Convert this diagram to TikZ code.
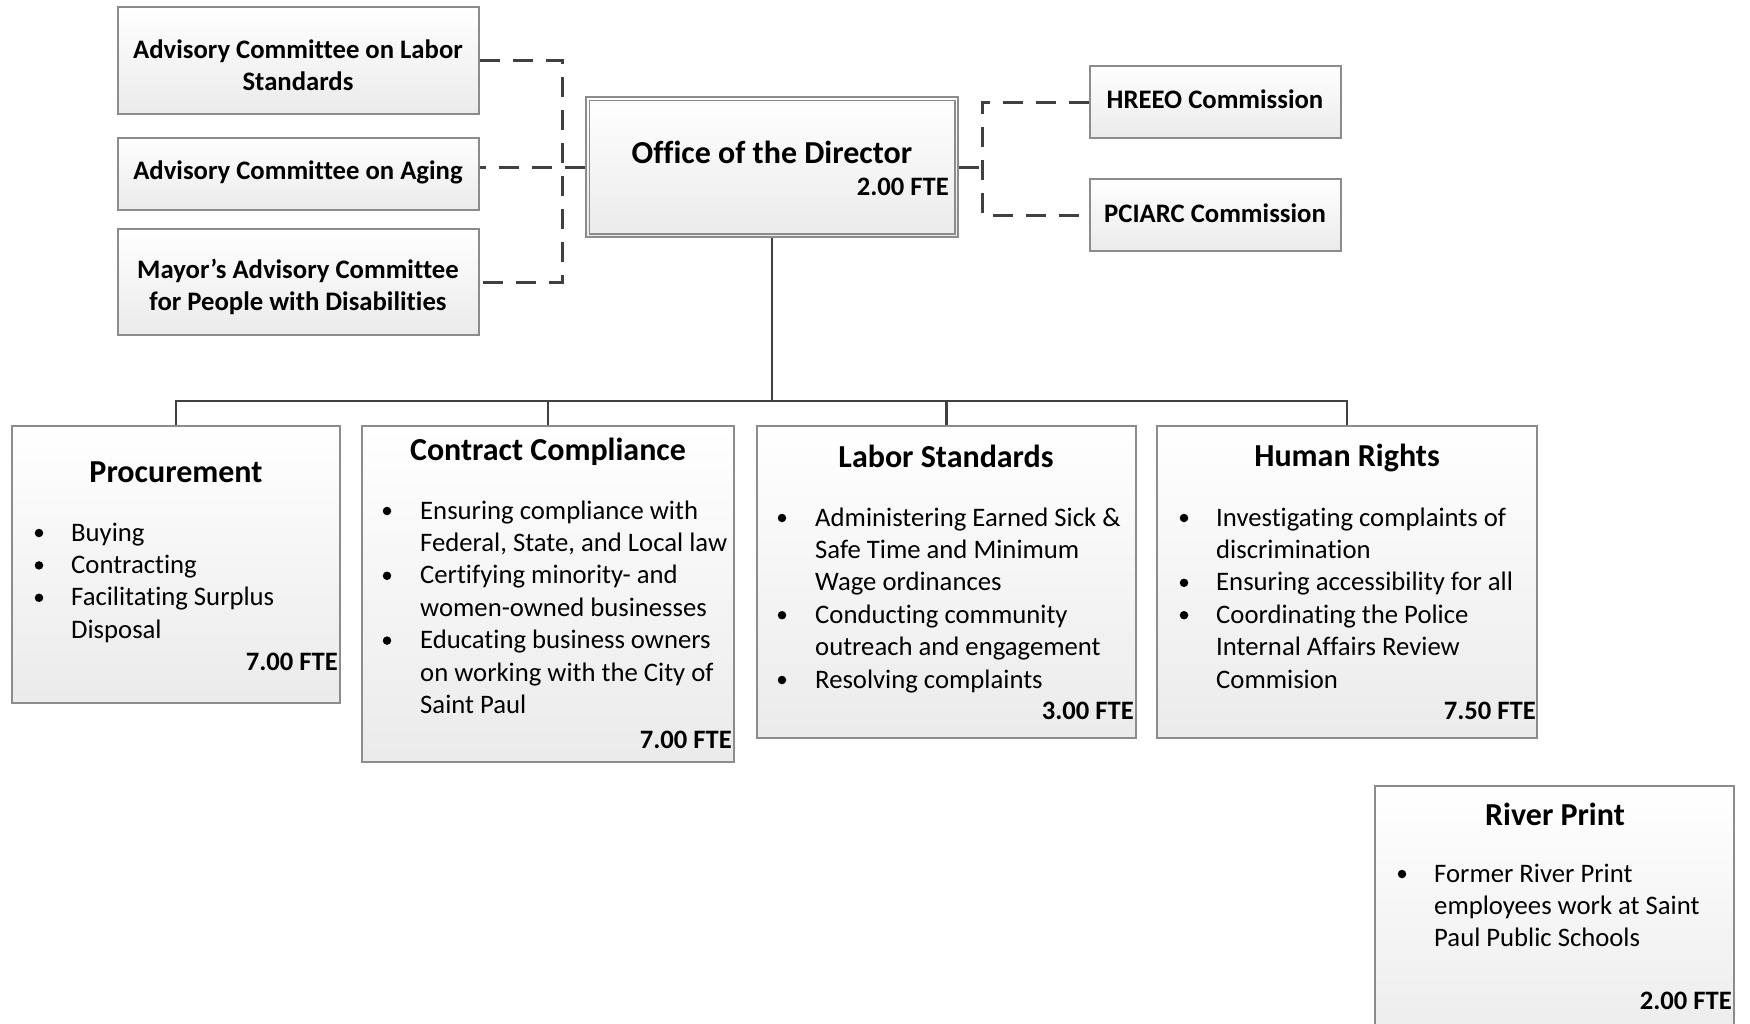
\documentclass[tikz,border=0pt]{standalone}
\usepackage{fontspec}
\setmainfont{Carlito}[Ligatures=CommonOff]
\definecolor{boxgray}{HTML}{8C8C8C}
\definecolor{linegray}{HTML}{404040}
\tikzset{
  box/.style={draw=boxgray, line width=1.5pt, top color=white, bottom color=black!8, inner sep=0pt, rectangle},
  ttl/.style={font=\bfseries\fontsize{32}{36}\selectfont, inner sep=0pt},
  sml/.style={font=\bfseries\fontsize{26.7}{32}\selectfont, inner sep=0pt, align=center},
  fte/.style={font=\bfseries\fontsize{26.6}{30}\selectfont, inner sep=0pt, anchor=east},
  body/.style={font=\fontsize{26.7}{32.4}\selectfont, inner sep=0pt, anchor=base west},
  bdot/.style={circle, fill=black, inner sep=0pt, minimum size=8.5pt},
  tree/.style={draw=linegray, line width=2.8pt},
  dsh/.style={draw=linegray, line width=3pt, dash pattern=on 20pt off 13pt},
}
\newcommand\mkbox[5]{\node[box, minimum width={(#4-#2)*1pt}, minimum height={(#5-#3)*1pt}] (#1) at ({(#2+#4)/2},{(#3+#5)/2}) {};}
\newcommand\tl[4]{\node[body] (#1) at (#2,{#3+8}) {#4};}
\newcommand\bd[3]{\node[bdot] (#1) at (#2,{#3}) {};}
\begin{document}
\begin{tikzpicture}[x=1pt,y=-1pt]
\useasboundingbox (0,0) rectangle (1750,1023);
% top left committees
\mkbox{acl}{118}{7}{479}{114}
\mkbox{aca}{118}{138}{479}{210}
\mkbox{may}{118}{229}{479}{335}
\node[sml] (aclT) at (298,65) {Advisory Committee on Labor\\Standards};
\node[sml] (acaT) at (298,172) {Advisory Committee on Aging};
\node[sml] (mayT) at (298,287) {Mayor’s Advisory Committee\\for People with Disabilities};
% director
\mkbox{dir}{586}{97}{958}{237}
\draw[draw=boxgray, line width=1.5pt] ([shift={(4,4)}]dir.north west) rectangle ([shift={(-4,-4)}]dir.south east);
\node[font=\bfseries\fontsize{32}{36}\selectfont, inner sep=0pt] (dirT) at (772,152) {Office of the Director};
\node[fte] (dirF) at (949,187) {2.00 FTE};
% commissions
\mkbox{hre}{1090}{66}{1341}{138}
\mkbox{pci}{1090}{179}{1341}{251}
\node[sml] (hreT) at (1215,99) {HREEO Commission};
\node[sml] (pciT) at (1215,213) {PCIARC Commission};
% dashed connectors
\coordinate (dvl) at (562,0);
\coordinate (dvr) at (982,0);
\draw[dsh] (acl.east) -| (may.east -| dvl) -- (may.east);
\draw[dsh] (dir.west) -- (dir.west -| aca.east);
\draw[dsh] (dir.east) -- (dir.east -| dvr);
\draw[dsh] (hre.west) -| (pci.west -| dvr) -- (pci.west);
% departments
\mkbox{pro}{12}{426}{340}{703}
\mkbox{cc}{362}{426}{734}{762}
\mkbox{ls}{757}{426}{1136}{738}
\mkbox{hr}{1157}{426}{1537}{738}
\mkbox{rp}{1375}{786}{1734}{1060}
% tree
\coordinate (bus) at (0,401);
\draw[tree] (dir.south) -- (dir.south |- bus);
\draw[tree] (pro.north) |- (hr.north |- bus) -- (hr.north);
\draw[tree] (cc.north) -- (cc.north |- bus);
\draw[tree] (ls.north) -- (ls.north |- bus);
% Procurement
\node[ttl] (proT) at (176,472) {Procurement};
\bd{prob1}{39}{533} \tl{prol1}{71}{533}{Buying}
\bd{prob2}{39}{565.4} \tl{prol2}{71}{565.4}{Contracting}
\bd{prob3}{39}{597.8} \tl{prol3}{71}{597.8}{Facilitating Surplus}
\tl{prol4}{71}{630.2}{Disposal}
\node[fte] (proF) at (338,662) {7.00 FTE};
% Contract Compliance
\node[ttl] (ccT) at (548,452) {Contract Compliance};
\bd{ccb1}{387}{511} \tl{ccl1}{420}{511}{Ensuring compliance with}
\tl{ccl2}{420}{543.4}{Federal, State, and Local law}
\bd{ccb2}{387}{575.8} \tl{ccl3}{420}{575.8}{Certifying minority- and}
\tl{ccl4}{420}{608.2}{women-owned businesses}
\bd{ccb3}{387}{640.6} \tl{ccl5}{420}{640.6}{Educating business owners}
\tl{ccl6}{420}{673}{on working with the City of}
\tl{ccl7}{420}{705.4}{Saint Paul}
\node[fte] (ccF) at (732,740) {7.00 FTE};
% Labor Standards
\node[ttl] (lsT) at (946,456) {Labor Standards};
\bd{lsb1}{782}{518} \tl{lsl1}{815}{518}{Administering Earned Sick \&}
\tl{lsl2}{815}{550.4}{Safe Time and Minimum}
\tl{lsl3}{815}{582.8}{Wage ordinances}
\bd{lsb2}{782}{615.2} \tl{lsl4}{815}{615.2}{Conducting community}
\tl{lsl5}{815}{647.6}{outreach and engagement}
\bd{lsb3}{782}{680} \tl{lsl6}{815}{680}{Resolving complaints}
\node[fte] (lsF) at (1134,711) {3.00 FTE};
% Human Rights
\node[ttl] (hrT) at (1347,458) {Human Rights};
\bd{hrb1}{1184}{518} \tl{hrl1}{1216}{518}{Investigating complaints of}
\tl{hrl2}{1216}{550.4}{discrimination}
\bd{hrb2}{1184}{582.8} \tl{hrl3}{1216}{582.8}{Ensuring accessibility for all}
\bd{hrb3}{1184}{615.2} \tl{hrl4}{1216}{615.2}{Coordinating the Police}
\tl{hrl5}{1216}{647.6}{Internal Affairs Review}
\tl{hrl6}{1216}{680}{Commision}
\node[fte] (hrF) at (1536,711) {7.50 FTE};
% River Print
\node[ttl] (rpT) at (1555,814) {River Print};
\bd{rpb1}{1402}{874} \tl{rpl1}{1434}{874}{Former River Print}
\tl{rpl2}{1434}{906.4}{employees work at Saint}
\tl{rpl3}{1434}{938.8}{Paul Public Schools}
\node[fte] (rpF) at (1732,1001) {2.00 FTE};
\end{tikzpicture}
\end{document}
